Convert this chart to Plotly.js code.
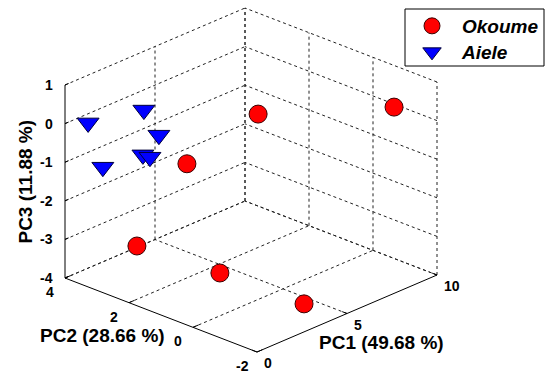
<!DOCTYPE html>
<html><head><meta charset="utf-8">
<script src="https://cdn.plot.ly/plotly-3.0.1.min.js"></script>
<style>html,body{margin:0;padding:0;background:#fff}</style>
</head><body><div id="chart" style="width:550px;height:377px"></div>
<script>
// ---- data ----
const seriesNames = ['Okoume', 'Aiele'];
const okoumePC1 = [6, 9, 4, 3, 4, 4];
const okoumePC2 = [1.34, -1.22, 2.44, 3.44, 1.41, -1.22];
const okoumePC3 = [-0.10, 0.30, -1.34, -3.59, -3.84, -3.80];
const aielePC1 = [1, 2, 2, 2, 2, 1];
const aielePC2 = [3.84, 2.66, 2.19, 2.69, 2.47, 3.38];
const aielePC3 = [-0.13, 0.38, -0.12, -0.79, -0.78, -1.13];
const pc1Ticks = [0, 5, 10];
const pc2Ticks = [-2, 0, 2, 4];
const pc3Ticks = [-4, -3, -2, -1, 0, 1];
const axisTitles = ['PC1 (49.68 %)', 'PC2 (28.66 %)', 'PC3 (11.88 %)'];

// ---- 3D box & orthographic projection onto the 2D plot axes ----
const X0 = 0, X1 = 10, Y0 = -2, Y1 = 4, Z0 = -4, Z1 = 1;
const ORIGIN = [257, 352];          // screen position of (X0, Y0, Z0)
const EX = [18.0, -7.7];            // screen step per PC1 unit
const EY = [-32.0, -12.33];         // screen step per PC2 unit
const EZ = [0, -38.6];              // screen step per PC3 unit
function P(x, y, z) {
  return [ORIGIN[0] + (x - X0) * EX[0] + (y - Y0) * EY[0] + (z - Z0) * EZ[0],
          ORIGIN[1] + (x - X0) * EX[1] + (y - Y0) * EY[1] + (z - Z0) * EZ[1]];
}
function projectSeries(xs, ys, zs) {
  const sx = [], sy = [];
  for (let i = 0; i < xs.length; i++) { const p = P(xs[i], ys[i], zs[i]); sx.push(p[0]); sy.push(p[1]); }
  return { x: sx, y: sy };
}
function segs(list) {
  const x = [], y = [];
  list.forEach(([a, b]) => { const p = P(...a), q = P(...b); x.push(p[0], q[0], null); y.push(p[1], q[1], null); });
  return { x, y };
}

// dashed grid on the three back planes
const grid = [];
pc3Ticks.forEach(z => { grid.push([[X0, Y1, z], [X1, Y1, z]]); grid.push([[X1, Y0, z], [X1, Y1, z]]); });
pc1Ticks.filter(x => x !== X0).forEach(x => { grid.push([[x, Y1, Z0], [x, Y1, Z1]]); grid.push([[x, Y0, Z0], [x, Y1, Z0]]); });
pc2Ticks.forEach(y => { grid.push([[X1, y, Z0], [X1, y, Z1]]); if (y !== Y0) grid.push([[X0, y, Z0], [X1, y, Z0]]); });
const gridXY = segs(grid);

// solid axis lines + ticks
const axes = [
  [[X0, Y1, Z0], [X0, Y1, Z1]],
  [[X0, Y0, Z0], [X0, Y1, Z0]],
  [[X0, Y0, Z0], [X1, Y0, Z0]]
];
pc3Ticks.forEach(z => axes.push([[X0, Y1, z], [X0 + 0.2, Y1, z]]));
pc2Ticks.forEach(y => axes.push([[X0, y, Z0], [X0 + 0.3, y, Z0]]));
pc1Ticks.forEach(x => axes.push([[x, Y0, Z0], [x, Y0 + 0.15, Z0]]));
const axesXY = segs(axes);

const ok = projectSeries(okoumePC1, okoumePC2, okoumePC3);
const ai = projectSeries(aielePC1, aielePC2, aielePC3);

const traces = [
  { x: gridXY.x, y: gridXY.y, mode: 'lines', line: { color: '#222', width: 1, dash: '3px,3px' }, hoverinfo: 'skip', showlegend: false },
  { x: axesXY.x, y: axesXY.y, mode: 'lines', line: { color: '#000', width: 1 }, hoverinfo: 'skip', showlegend: false },
  { x: ok.x, y: ok.y, mode: 'markers', name: seriesNames[0], legend: 'legend',
    marker: { symbol: 'circle', size: 18, color: '#ff0000', line: { color: '#3a0000', width: 1 } } },
  { x: ai.x, y: ai.y, mode: 'markers', name: seriesNames[1], legend: 'legend2',
    marker: { symbol: 'triangle-down', size: 19, color: '#0000ff', line: { color: '#00003a', width: 1 } } }
];

const tickFont = { family: 'Arial, Liberation Sans, sans-serif', size: 14, color: '#000', weight: 'bold' };
const titleFont = { family: 'Arial, Liberation Sans, sans-serif', size: 19, color: '#000', weight: 'bold' };
const ann = [];
pc3Ticks.forEach(z => { const p = P(X0, Y1, z); ann.push({ x: p[0], y: p[1], text: String(z), showarrow: false, xanchor: 'right', yanchor: 'middle', xshift: -10, font: tickFont }); });
pc2Ticks.forEach(y => { const p = P(X0, y, Z0); ann.push({ x: p[0], y: p[1], text: String(y), showarrow: false, xanchor: 'center', yanchor: 'middle', xshift: -15, yshift: -14, font: tickFont }); });
pc1Ticks.forEach(x => { const p = P(x, Y0, Z0); ann.push({ x: p[0], y: p[1], text: String(x), showarrow: false, xanchor: 'left', yanchor: 'middle', xshift: 5, yshift: -11, font: tickFont }); });
// axis titles
const t1 = P((X0 + X1) / 2, Y0, Z0), t2 = P(X0, (Y0 + Y1) / 2, Z0), t3 = P(X0, Y1, (Z0 + Z1) / 2);
ann.push({ x: t1[0], y: t1[1], text: axisTitles[0], showarrow: false, xanchor: 'center', yanchor: 'middle', xshift: 34, yshift: -29, font: titleFont });
ann.push({ x: t2[0], y: t2[1], text: axisTitles[1], showarrow: false, xanchor: 'center', yanchor: 'middle', xshift: -59, yshift: -20, font: titleFont });
ann.push({ x: t3[0], y: t3[1], text: axisTitles[2], showarrow: false, xanchor: 'center', yanchor: 'middle', textangle: -90, xshift: -39, yshift: 0, font: titleFont });

const legendFont = { family: 'Arial, Liberation Sans, sans-serif', size: 19, color: '#000', weight: 'bold', style: 'italic' };
const layout = {
  width: 550, height: 377,
  margin: { l: 0, r: 0, t: 0, b: 0 },
  paper_bgcolor: '#fff', plot_bgcolor: '#fff',
  xaxis: { range: [0, 550], visible: false, fixedrange: true },
  yaxis: { range: [377, 0], visible: false, fixedrange: true },
  showlegend: true,
  legend: { x: 402 / 550, y: 1 - 26 / 377, xanchor: 'left', yanchor: 'middle', borderwidth: 0, bgcolor: 'rgba(0,0,0,0)',
            itemwidth: 50, font: legendFont },
  legend2: { x: 402 / 550, y: 1 - 52 / 377, xanchor: 'left', yanchor: 'middle', borderwidth: 0, bgcolor: 'rgba(0,0,0,0)',
             itemwidth: 50, font: legendFont },
  shapes: [{ type: 'rect', xref: 'paper', yref: 'paper', x0: 405 / 550, x1: 544 / 550, y0: 1 - 9 / 377, y1: 1 - 66 / 377,
             line: { color: '#000', width: 1 }, fillcolor: '#fff', layer: 'above' }],
  annotations: ann
};
Plotly.newPlot('chart', traces, layout, { staticPlot: true, displayModeBar: false });
</script></body></html>
